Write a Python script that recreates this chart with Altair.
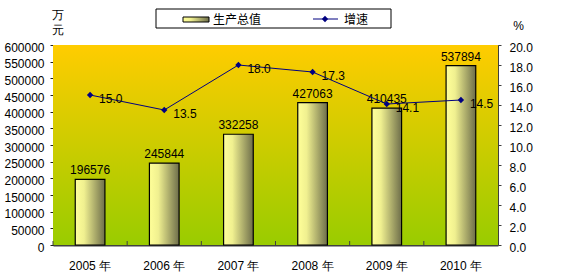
import altair as alt
import pandas as pd

years = ["2005 年", "2006 年", "2007 年", "2008 年", "2009 年", "2010 年"]
gdp = [196576, 245844, 332258, 427063, 410435, 537894]
growth = [15.0, 13.5, 18.0, 17.3, 14.1, 14.5]
series_names = ["生产总值", "增速"]

W, H = 445, 200
FONT = "Liberation Sans"

df = pd.DataFrame({"year": years, "gdp": gdp, "growth": growth})
one = pd.DataFrame({"k": [0]})

bar_grad = alt.Gradient(
    gradient="linear", x1=0, x2=1, y1=0, y2=0,
    stops=[alt.GradientStop(color="#FFFF99", offset=0),
           alt.GradientStop(color="#F0F090", offset=0.3),
           alt.GradientStop(color="#6E6E4A", offset=1)])
bg_grad = alt.Gradient(
    gradient="linear", x1=0, x2=0, y1=0, y2=1,
    stops=[alt.GradientStop(color="#FFCC00", offset=0),
           alt.GradientStop(color="#99CC00", offset=1)])

xenc = alt.X("year:N", sort=years,
             scale=alt.Scale(paddingInner=0, paddingOuter=0),
             axis=alt.Axis(title=None, labelFont=FONT, labelFontSize=12, labelColor="black",
                           labelPadding=15, tickSize=0, domainColor="#404040", domainWidth=2,
                           labelAngle=0))

yl = alt.Y("gdp:Q", scale=alt.Scale(domain=[0, 600000], nice=False),
           axis=alt.Axis(values=list(range(0, 600001, 50000)), format="d", grid=False,
                         labelFont=FONT, labelFontSize=12, labelColor="black", labelOffset=2,
                         tickSize=3, tickColor="#202020", domainColor="#202020",
                         title=["万", "元"], titleAngle=0, titleX=4, titleY=-36,
                         titleAlign="center", titleBaseline="top", titleFont=FONT,
                         titleFontSize=12, titleFontWeight="normal", titleLineHeight=15,
                         titleColor="black", labelPadding=6))
yl_noaxis = alt.Y("gdp:Q", scale=alt.Scale(domain=[0, 600000], nice=False), axis=None)

yr = alt.Y("growth:Q", scale=alt.Scale(domain=[0, 20], nice=False),
           axis=alt.Axis(orient="right", values=list(range(0, 21, 2)), format=".1f", grid=False,
                         labelFont=FONT, labelFontSize=12, labelColor="black", labelOffset=2,
                         tickSize=3, tickColor="#404040", domainColor="#404040",
                         title="%", titleAngle=0, titleX=20, titleY=-25,
                         titleAlign="center", titleBaseline="top", titleFont=FONT,
                         titleFontSize=12, titleFontWeight="normal", titleColor="black",
                         labelPadding=8))
yr_noaxis = alt.Y("growth:Q", scale=alt.Scale(domain=[0, 20], nice=False), axis=None)

bg = alt.Chart(one).mark_rect(fill=bg_grad).encode(
    x=alt.value(0), x2=alt.value(W), y=alt.value(0), y2=alt.value(H))

bars = alt.Chart(df).mark_bar(fill=bar_grad, stroke="black", strokeWidth=1.2,
                              width=alt.RelativeBandSize(0.4)).encode(x=xenc, y=yl)

bar_labels = alt.Chart(df).mark_text(font=FONT, fontSize=12, color="black", dy=-5,
                                     baseline="alphabetic").encode(
    x=alt.X("year:N", sort=years), y=yl_noaxis, text=alt.Text("gdp:Q", format="d"))

xticks = alt.Chart(df).mark_rule(color="#404040", strokeWidth=1).encode(
    x=alt.X("year:N", sort=years, bandPosition=0), y=alt.value(H - 4), y2=alt.value(H))

line = alt.Chart(df).mark_line(color="#000080", strokeWidth=1).encode(
    x=alt.X("year:N", sort=years), y=yr)
pts = alt.Chart(df).mark_point(shape="diamond", filled=True, color="#000080", size=40,
                               opacity=1).encode(x=alt.X("year:N", sort=years), y=yr_noaxis)
line_labels = alt.Chart(df).mark_text(font=FONT, fontSize=12, color="black", align="left",
                                      baseline="middle", dx=9, dy=4).encode(
    x=alt.X("year:N", sort=years), y=yr_noaxis, text=alt.Text("growth:Q", format=".1f"))

leg_box = alt.Chart(one).mark_rect(fill="white", stroke="black", strokeWidth=1).encode(
    x=alt.value(103), x2=alt.value(338), y=alt.value(-36), y2=alt.value(-17))
leg_sw = alt.Chart(one).mark_rect(fill=bar_grad, stroke="black", strokeWidth=1).encode(
    x=alt.value(130), x2=alt.value(156), y=alt.value(-28), y2=alt.value(-23))
leg_t1 = alt.Chart(one).mark_text(font="Noto Sans CJK SC", fontSize=12, color="black",
                                  align="left", baseline="middle", text=series_names[0]).encode(
    x=alt.value(160), y=alt.value(-25))
leg_ln = alt.Chart(one).mark_rule(color="#000080", strokeWidth=1).encode(
    x=alt.value(260), x2=alt.value(285), y=alt.value(-26))
leg_pt = alt.Chart(one).mark_point(shape="diamond", filled=True, color="#000080", size=40,
                                   opacity=1).encode(x=alt.value(272), y=alt.value(-26))
leg_t2 = alt.Chart(one).mark_text(font="Noto Sans CJK SC", fontSize=12, color="black",
                                  align="left", baseline="middle", text=series_names[1]).encode(
    x=alt.value(291), y=alt.value(-25))

chart = alt.layer(
    bg, bars, bar_labels, xticks, line, pts, line_labels,
    leg_box, leg_sw, leg_t1, leg_ln, leg_pt, leg_t2
).resolve_scale(y="independent").properties(
    width=W, height=H,
    autosize=alt.AutoSizeParams(type="none"),
    padding={"left": 53, "top": 45, "right": 74, "bottom": 33},
    background="white",
).configure_view(stroke="#808080", strokeWidth=1)

chart.save("out.html", embed_options={"renderer": "svg", "actions": False})
